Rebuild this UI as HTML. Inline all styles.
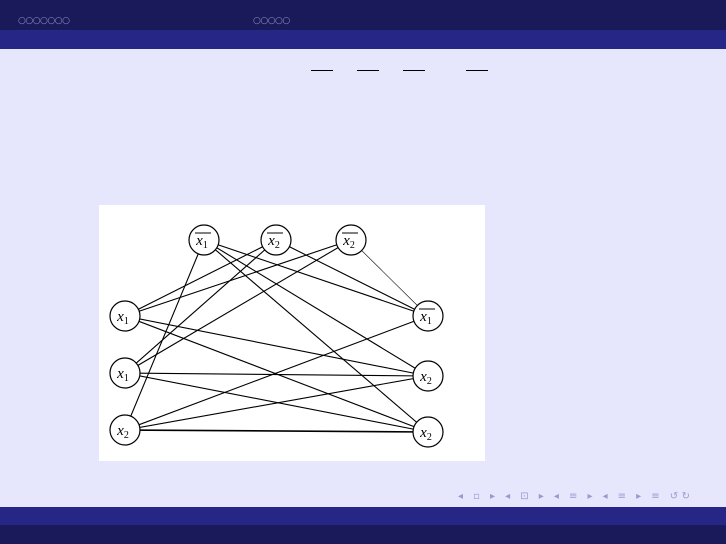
<!DOCTYPE html>
<html><head><style>
body{margin:0;width:726px;height:544px;background:#e6e7fd;position:relative;overflow:hidden;font-family:"Liberation Serif",serif}
.b{position:absolute;left:0;width:726px}
.dots{position:absolute;top:16px;color:#9090c0;font-size:9px;letter-spacing:-0.5px;font-family:"DejaVu Sans",sans-serif}
.ov{position:absolute;top:70px;height:1px;width:22px;background:#000}
</style></head><body>
<div class="b" style="top:0;height:30px;background:#1a1a5a"></div>
<div class="b" style="top:30px;height:19px;background:#262686"></div>
<div class="dots" style="left:18px">○○○○○○○</div>
<div class="dots" style="left:253px">○○○○○</div>
<div class="ov" style="left:311px"></div>
<div class="ov" style="left:357px"></div>
<div class="ov" style="left:403px"></div>
<div class="ov" style="left:466px"></div>
<svg style="position:absolute;left:0;top:0" width="726" height="544">
<rect x="99" y="205" width="386" height="256" fill="#fff"/>
<g stroke="#000" stroke-width="1.1" fill="none">
<line x1="204" y1="240" x2="125" y2="430"/>
<line x1="204" y1="240" x2="428" y2="316"/>
<line x1="204" y1="240" x2="428" y2="376"/>
<line x1="204" y1="240" x2="428" y2="432"/>
<line x1="276" y1="240" x2="125" y2="316"/>
<line x1="276" y1="240" x2="125" y2="373"/>
<line x1="276" y1="240" x2="428" y2="316"/>
<line x1="351" y1="240" x2="125" y2="316"/>
<line x1="351" y1="240" x2="125" y2="373"/>
<line x1="351" y1="240" x2="428" y2="316" stroke-width="0.6"/>
<line x1="125" y1="316" x2="428" y2="376"/>
<line x1="125" y1="316" x2="428" y2="432"/>
<line x1="125" y1="373" x2="428" y2="376"/>
<line x1="125" y1="373" x2="428" y2="432"/>
<line x1="125" y1="430" x2="428" y2="316"/>
<line x1="125" y1="430" x2="428" y2="376"/>
<line x1="125" y1="430" x2="428" y2="432" stroke-width="1.6"/>
</g>
<g stroke="#000" stroke-width="1.2" fill="#fff">
<circle cx="204" cy="240" r="15"/><circle cx="276" cy="240" r="15"/><circle cx="351" cy="240" r="15"/>
<circle cx="125" cy="316" r="15"/><circle cx="125" cy="373" r="15"/><circle cx="125" cy="430" r="15"/>
<circle cx="428" cy="316" r="15"/><circle cx="428" cy="376" r="15"/><circle cx="428" cy="432" r="15"/>
</g>
<g font-family="Liberation Serif,serif" font-style="italic" font-size="15" text-anchor="middle">
<text x="202" y="245">x<tspan font-size="10" font-style="normal" dy="3">1</tspan></text>
<text x="274" y="245">x<tspan font-size="10" font-style="normal" dy="3">2</tspan></text>
<text x="349" y="245">x<tspan font-size="10" font-style="normal" dy="3">2</tspan></text>
<text x="123" y="321">x<tspan font-size="10" font-style="normal" dy="3">1</tspan></text>
<text x="123" y="378">x<tspan font-size="10" font-style="normal" dy="3">1</tspan></text>
<text x="123" y="435">x<tspan font-size="10" font-style="normal" dy="3">2</tspan></text>
<text x="426" y="321">x<tspan font-size="10" font-style="normal" dy="3">1</tspan></text>
<text x="426" y="381">x<tspan font-size="10" font-style="normal" dy="3">2</tspan></text>
<text x="426" y="437">x<tspan font-size="10" font-style="normal" dy="3">2</tspan></text>
</g>
<g stroke="#000" stroke-width="1">
<line x1="195" y1="233" x2="211" y2="233"/><line x1="267" y1="233" x2="283" y2="233"/><line x1="342" y1="233" x2="358" y2="233"/><line x1="419" y1="309" x2="435" y2="309"/>
</g>
<g fill="#9a9ace" font-family="DejaVu Sans,sans-serif" font-size="10">
<text x="458" y="499" textLength="232" lengthAdjust="spacing">◂ ▫ ▸ ◂ ⊡ ▸ ◂ ≡ ▸ ◂ ≡ ▸ ≡ ↺↻</text>
</g>
</svg>
<div class="b" style="top:507px;height:18px;background:#262686"></div>
<div class="b" style="top:525px;height:19px;background:#1a1a5a"></div>
</body></html>
